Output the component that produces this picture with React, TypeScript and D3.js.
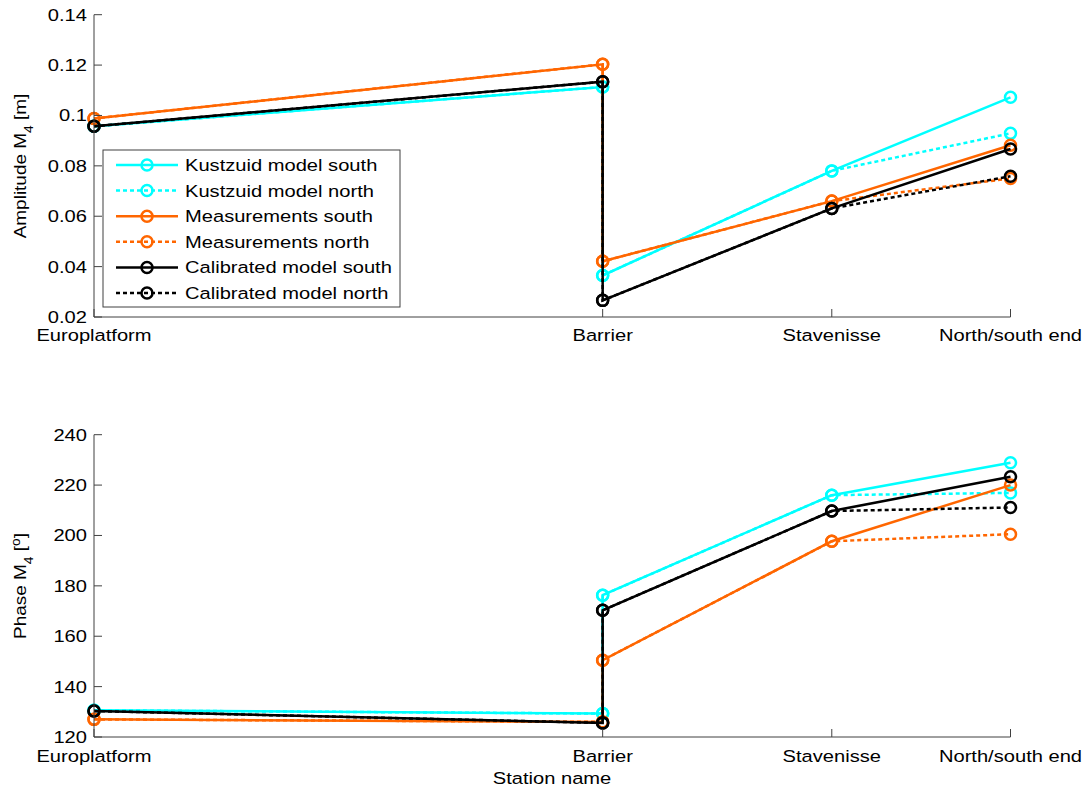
import * as d3 from "d3";

// station positions along the estuary (relative distance) and names
const STATIONS = ["Europlatform", "Barrier", "Stavenisse", "North/south end"];
const STATION_POS = [0, 55.5, 80.5, 100];
// each series visits the barrier twice (seaward / landward side)
const SERIES_X = [0, 55.5, 55.5, 80.5, 100];

const AMP_TICKS = [0.02, 0.04, 0.06, 0.08, 0.1, 0.12, 0.14];
const PHASE_TICKS = [120, 140, 160, 180, 200, 220, 240];

const ampKustSouth = [0.0957, 0.1113, 0.0365, 0.078, 0.1072];
const ampKustNorth = [0.0957, 0.1113, 0.0365, 0.078, 0.0929];
const ampMeasSouth = [0.0988, 0.1203, 0.0421, 0.066, 0.0882];
const ampMeasNorth = [0.0988, 0.1203, 0.0421, 0.066, 0.075];
const ampCalSouth = [0.0957, 0.1134, 0.0266, 0.0631, 0.0867];
const ampCalNorth = [0.0957, 0.1134, 0.0266, 0.0631, 0.0759];

const phKustSouth = [130.6, 129.3, 176.3, 216.0, 228.9];
const phKustNorth = [130.6, 129.3, 176.3, 216.0, 216.9];
const phMeasSouth = [127.0, 126.0, 150.5, 197.7, 220.0];
const phMeasNorth = [127.0, 126.0, 150.5, 197.7, 200.5];
const phCalSouth = [130.3, 125.6, 170.3, 209.7, 223.3];
const phCalNorth = [130.3, 125.6, 170.3, 209.7, 211.1];

const LABELS = [
  "Kustzuid model south",
  "Kustzuid model north",
  "Measurements south",
  "Measurements north",
  "Calibrated model south",
  "Calibrated model north",
];
const COLORS = ["#00ffff", "#00ffff", "#ff6600", "#ff6600", "#000000", "#000000"];
const DASHED = [false, true, false, true, false, true];

const AMP = [ampKustSouth, ampKustNorth, ampMeasSouth, ampMeasNorth, ampCalSouth, ampCalNorth];
const PHASE = [phKustSouth, phKustNorth, phMeasSouth, phMeasNorth, phCalSouth, phCalNorth];

const FONT = "'Liberation Sans', Arial, sans-serif";
const FS = 16.5;
const SX = 1.22; // the original text is rendered a bit wide
const AXIS = "#404040";

const x = d3.scaleLinear().domain([0, 100]).range([94, 1010.5]);

// text placed at (px,py), stretched horizontally like the original
function T({ px, py, anchor = "start", rotate = 0, sx = SX, children }: any) {
  return (
    <text
      transform={`translate(${px},${py}) rotate(${rotate}) scale(${sx},1)`}
      textAnchor={anchor}
      fontSize={FS}
      fontFamily={FONT}
    >
      {children}
    </text>
  );
}

function Panel({ y, ticks, data, fmt, yLabel, tickY }: any) {
  const [y0, y1] = y.range();
  const line = d3.line<number>().x((_, i) => x(SERIES_X[i])).y((v) => y(v));
  return (
    <g>
      {data.map((s: number[], k: number) => (
        <g key={k}>
          <path
            d={line(s) || ""}
            fill="none"
            stroke={COLORS[k]}
            strokeWidth={2.5}
            strokeDasharray={DASHED[k] ? "4 3" : undefined}
          />
          {s.map((v, i) => (
            <circle key={i} cx={x(SERIES_X[i])} cy={y(v)} r={5.5} fill="none" stroke={COLORS[k]} strokeWidth={2.5} />
          ))}
        </g>
      ))}
      {/* axes */}
      <line x1={x(0)} x2={x(0)} y1={y0} y2={y1} stroke={AXIS} strokeWidth={1} />
      <line x1={x(0)} x2={x(100)} y1={y0} y2={y0} stroke={AXIS} strokeWidth={1} />
      {ticks.map((t: number) => (
        <g key={t}>
          <line x1={x(0)} x2={x(0) + 8} y1={y(t)} y2={y(t)} stroke={AXIS} />
          <T px={87} py={y(t) + 6} anchor="end">
            {fmt(t)}
          </T>
        </g>
      ))}
      {STATION_POS.map((p, i) => (
        <g key={i}>
          <line x1={x(p)} x2={x(p)} y1={y0} y2={y0 - 8} stroke={AXIS} />
          <T px={x(p)} py={tickY} anchor="middle">
            {STATIONS[i]}
          </T>
        </g>
      ))}
      {yLabel}
    </g>
  );
}

export default function App() {
  const yAmp = d3.scaleLinear().domain([0.02, 0.14]).range([317, 14.7]);
  const yPh = d3.scaleLinear().domain([120, 240]).range([737, 434.7]);
  const ampFmt = (t: number) => (t === 0.1 ? "0.1" : t.toFixed(2));

  return (
    <svg width={1088} height={796} style={{ position: "absolute", left: 0, top: 0, background: "#fff" }}>
      <Panel
        y={yAmp}
        ticks={AMP_TICKS}
        data={AMP}
        fmt={ampFmt}
        tickY={341}
        yLabel={
          <T px={26} py={166} anchor="middle" rotate={-90} sx={1.15}>
            Amplitude M<tspan baselineShift="sub" fontSize={12}>4</tspan> [m]
          </T>
        }
      />
      <Panel
        y={yPh}
        ticks={PHASE_TICKS}
        data={PHASE}
        fmt={(t: number) => String(t)}
        tickY={762}
        yLabel={
          <T px={26} py={586} anchor="middle" rotate={-90} sx={1.15}>
            Phase M<tspan baselineShift="sub" fontSize={12}>4</tspan>
            <tspan> [</tspan>
            <tspan baselineShift="super" fontSize={12}>o</tspan>
            <tspan>]</tspan>
          </T>
        }
      />
      <T px={552} py={784} anchor="middle">
        Station name
      </T>
      {/* legend */}
      <g>
        <rect x={103} y={150} width={297} height={157} fill="#fff" stroke={AXIS} strokeWidth={1} />
        {LABELS.map((l, i) => {
          const ly = 165 + i * 25.6;
          return (
            <g key={i}>
              <line x1={116} x2={178} y1={ly} y2={ly} stroke={COLORS[i]} strokeWidth={2.5} strokeDasharray={DASHED[i] ? "4 3" : undefined} />
              <circle cx={147} cy={ly} r={5.5} fill="none" stroke={COLORS[i]} strokeWidth={2.5} />
              <T px={185} py={ly + 6}>
                {l}
              </T>
            </g>
          );
        })}
      </g>
    </svg>
  );
}
